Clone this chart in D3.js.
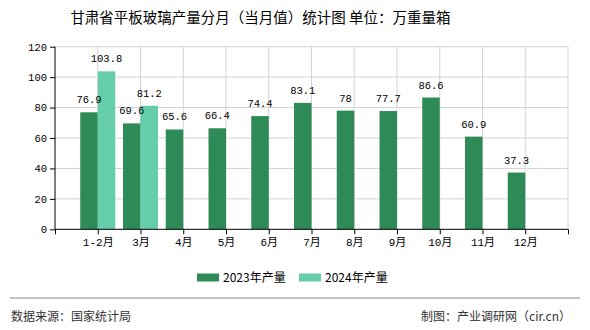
<!DOCTYPE html>
<html><head><meta charset="utf-8">
<script src="https://cdn.jsdelivr.net/npm/d3@7"></script>
<style>body{margin:0;background:#fff}svg{display:block}</style>
</head><body>
<svg id="c" width="590" height="330"></svg>
<script>
const categories = ["1-2月","3月","4月","5月","6月","7月","8月","9月","10月","11月","12月"];
const values2023 = [76.9,69.6,65.6,66.4,74.4,83.1,78,77.7,86.6,60.9,37.3];
const values2024 = [103.8,81.2];
const seriesNames = ["2023年产量","2024年产量"];
const yTicks = [0,20,40,60,80,100,120];
const titleText = "甘肃省平板玻璃产量分月（当月值）统计图 单位：万重量箱";
const sourceText = "数据来源：国家统计局";
const makerText = "制图：产业调研网（cir.cn）";

const colors = ["#2E8B57","#66CDAA"];
const svg = d3.select("#c");
const L=55, R=568, T=46.7, B=229.3;
const x = d3.scaleLinear().domain([0,12]).range([L,R]);
const y = d3.scaleLinear().domain([0,120]).range([B,T]);
const sub = d3.scaleBand().domain(seriesNames).range([-17.5,17.5]);
const monoFont = "'Liberation Mono','Noto Sans CJK SC',monospace";

// title
svg.append("text").attr("x",260.5).attr("y",23).attr("text-anchor","middle")
  .attr("font-family","'Noto Sans CJK SC',sans-serif").attr("font-size",14.5).attr("fill","#000")
  .text(titleText);

// grid
const g = svg.append("g");
g.selectAll(".hg").data(yTicks.filter(d=>d>0)).join("line")
  .attr("x1",L).attr("x2",R).attr("y1",d=>y(d)).attr("y2",d=>y(d))
  .attr("stroke","#d3d3d3").attr("stroke-width",1);
g.selectAll(".vg").data(d3.range(1,13)).join("line")
  .attr("x1",d=>x(d)).attr("x2",d=>x(d)).attr("y1",T).attr("y2",B)
  .attr("stroke","#d3d3d3").attr("stroke-width",1);

// bars
const all = [values2023, values2024];
const barG = svg.append("g"), labG = svg.append("g");
all.forEach((vals,si)=>{
  barG.append("g").selectAll("rect").data(vals).join("rect")
    .attr("x",(d,i)=>x(i+1)+sub(seriesNames[si]))
    .attr("width",sub.bandwidth())
    .attr("y",d=>y(d)).attr("height",d=>B-y(d))
    .attr("fill",colors[si]);
  labG.append("g").selectAll("text").data(vals).join("text")
    .attr("x",(d,i)=>x(i+1)+sub(seriesNames[si])+sub.bandwidth()/2)
    .attr("y",d=>y(d)-9)
    .attr("text-anchor","middle").attr("font-family",monoFont).attr("font-size",10.5)
    .attr("fill","#000").text(d=>d);
});

// axes
const yAxis = d3.axisLeft(y).tickValues(yTicks).tickSize(5).tickPadding(3);
const ya = svg.append("g").attr("transform",`translate(${L},0)`).call(yAxis);
ya.select(".domain").attr("stroke","#000").attr("d",`M0,${B}V${T}`);
ya.selectAll("text").attr("font-family",monoFont).attr("font-size",10.5).attr("fill","#000");

const xAxis = d3.axisBottom(x).tickValues(d3.range(0,13)).tickSize(5).tickPadding(4)
  .tickFormat(d=> (d>=1 && d<=categories.length) ? categories[d-1] : "");
const xa = svg.append("g").attr("transform",`translate(0,${B})`).call(xAxis);
xa.select(".domain").attr("stroke","#000").attr("d",`M${L},0H${R}`);
xa.selectAll("text").attr("font-family",monoFont).attr("font-size",11).attr("fill","#000");

// legend
const lg = svg.append("g");
const legX = [197,299];
seriesNames.forEach((n,i)=>{
  lg.append("rect").attr("x",legX[i]).attr("y",273.5).attr("width",22).attr("height",8).attr("fill",colors[i]);
  lg.append("text").attr("x",legX[i]+26).attr("y",282).attr("font-family","'Noto Sans CJK SC',sans-serif")
    .attr("font-size",12).attr("fill","#000").text(n);
});

// footer
svg.append("line").attr("x1",10).attr("x2",580).attr("y1",298).attr("y2",298).attr("stroke","#888").attr("stroke-width",1);
svg.append("text").attr("x",11).attr("y",321).attr("font-family","'Noto Sans CJK SC',sans-serif")
  .attr("font-size",12).attr("fill","#333").text(sourceText);
svg.append("text").attr("x",571).attr("y",321).attr("text-anchor","end").attr("font-family","'Noto Sans CJK SC',sans-serif")
  .attr("font-size",12).attr("fill","#333").text(makerText);
</script>
</body></html>
